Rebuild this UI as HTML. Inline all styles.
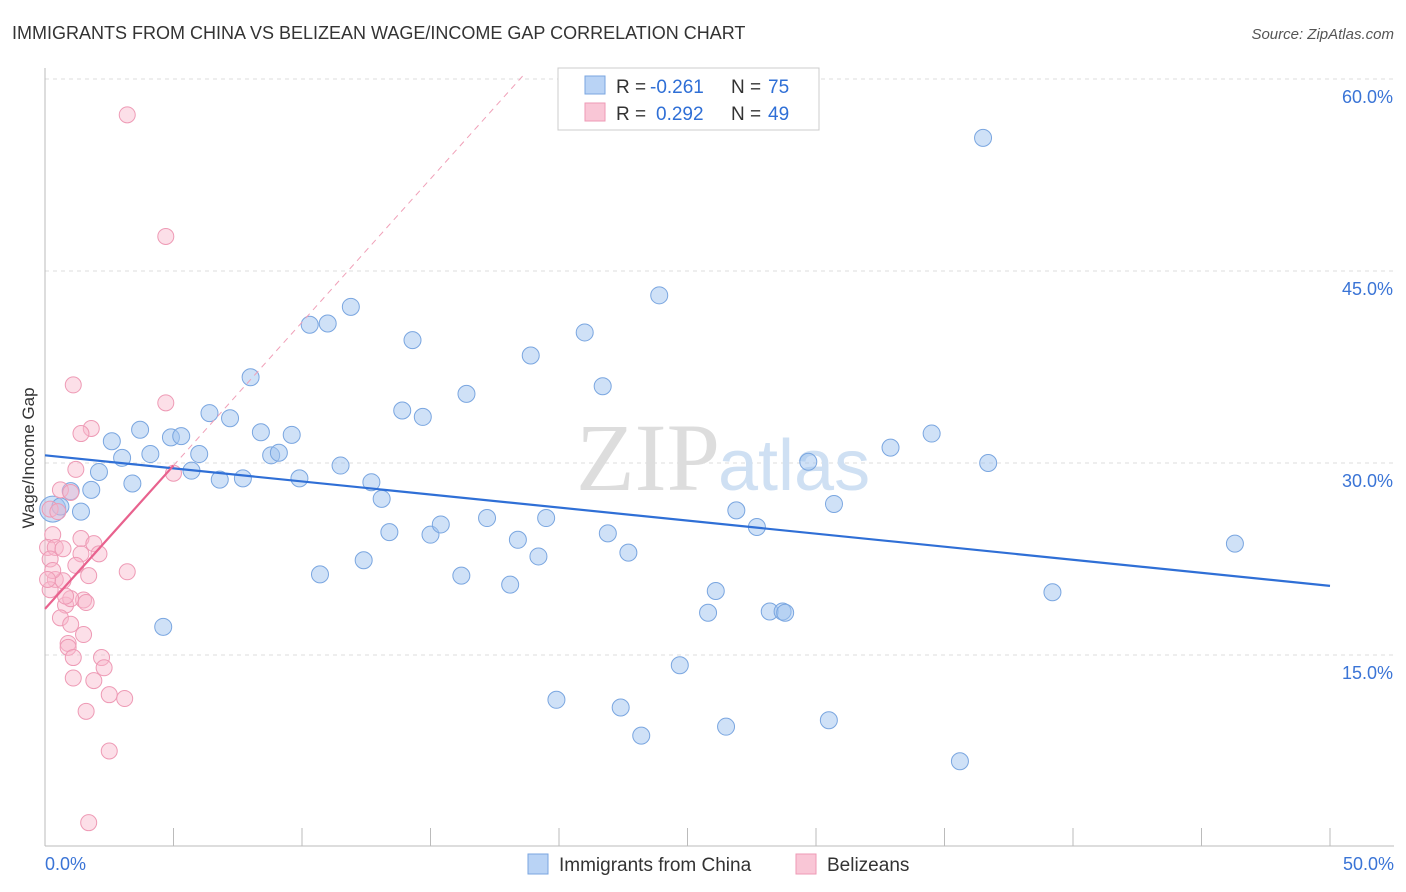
<!DOCTYPE html>
<html><head><meta charset="utf-8"><style>
body{margin:0;background:#fff;font-family:"Liberation Sans",sans-serif;}
svg{display:block}
</style></head><body>
<svg id="chart" width="1406" height="892">
<text x="12" y="39" font-size="18" fill="#333">IMMIGRANTS FROM CHINA VS BELIZEAN WAGE/INCOME GAP CORRELATION CHART</text>
<text x="1394" y="39" font-size="15" fill="#555" font-style="italic" text-anchor="end">Source: ZipAtlas.com</text>
<text x="34" y="458" font-size="17" fill="#333" transform="rotate(-90 34 458)" text-anchor="middle">Wage/Income Gap</text>
<g id="grid"></g>
<text x="720" y="490" font-size="96" fill="#ddd" font-family="Liberation Serif" text-anchor="end">ZIP</text>
<text x="718" y="490" font-size="72" fill="#cfe0f3">atlas</text>
<g id="marks"></g>
<g>
<rect x="558" y="68" width="261" height="62" fill="#fff" stroke="#ccc"/>
<rect x="585" y="76" width="20" height="18" fill="#b9d3f5" stroke="#7aa6e0"/>
<rect x="585" y="103" width="20" height="18" fill="#f9c6d6" stroke="#ee9ab5"/>
<text x="616" y="93" font-size="19" fill="#333">R =</text>
<text x="650" y="93" font-size="19" fill="#2f6fd6">-0.261</text>
<text x="731" y="93" font-size="19" fill="#333">N =</text>
<text x="768" y="93" font-size="19" fill="#2f6fd6">75</text>
<text x="616" y="120" font-size="19" fill="#333">R =</text>
<text x="656" y="120" font-size="19" fill="#2f6fd6">0.292</text>
<text x="731" y="120" font-size="19" fill="#333">N =</text>
<text x="768" y="120" font-size="19" fill="#2f6fd6">49</text>
</g>
<g>
<rect x="528" y="854" width="20" height="20" fill="#b9d3f5" stroke="#7aa6e0"/>
<text x="559" y="871" font-size="19" fill="#333">Immigrants from China</text>
<rect x="796" y="854" width="20" height="20" fill="#f9c6d6" stroke="#ee9ab5"/>
<text x="827" y="871" font-size="19" fill="#333">Belizeans</text>
</g>
</svg>
<script>
const yTicks=[15,30,45,60];
const yTickLabels=["15.0%","30.0%","45.0%","60.0%"];
const xTickLabels=["0.0%","50.0%"];
const chinaX=[0.3,0.6,1.0,1.4,1.8,2.1,2.6,3.0,3.4,3.7,4.1,4.6,4.9,5.3,5.7,6.0,6.4,6.8,7.2,7.7,8.0,8.4,8.8,9.1,9.6,9.9,10.3,11.0,11.5,10.7,11.9,12.4,12.7,13.1,13.4,13.9,14.3,14.7,15.0,15.4,16.2,16.4,17.2,18.1,18.4,18.9,19.2,19.5,19.9,21.0,21.7,21.9,22.4,22.7,23.2,23.9,24.7,25.8,26.1,26.5,26.9,27.7,28.2,28.7,28.8,29.7,30.5,30.7,32.9,34.5,35.6,36.5,36.7,39.2,46.3];
const chinaY=[26.4,26.6,27.8,26.2,27.9,29.3,31.7,30.4,28.4,32.6,30.7,17.2,32.0,32.1,29.4,30.7,33.9,28.7,33.5,28.8,36.7,32.4,30.6,30.8,32.2,28.8,40.8,40.9,29.8,21.3,42.2,22.4,28.5,27.2,24.6,34.1,39.6,33.6,24.4,25.2,21.2,35.4,25.7,20.5,24.0,38.4,22.7,25.7,11.5,40.2,36.0,24.5,10.9,23.0,8.7,43.1,14.2,18.3,20.0,9.4,26.3,25.0,18.4,18.4,18.3,30.1,9.9,26.8,31.2,32.3,6.7,55.4,30.0,19.9,23.7];
const belX=[3.2,4.7,1.1,4.7,1.8,1.4,1.2,5.0,0.6,1.0,0.2,0.3,0.1,0.4,0.7,0.2,1.4,1.9,2.1,1.4,1.2,3.2,1.7,0.4,0.7,0.2,1.5,1.6,0.8,1.0,0.6,1.0,1.5,0.9,0.9,1.1,2.2,2.3,1.1,1.9,2.5,3.1,1.6,2.5,1.7,0.3,0.5,0.1,0.8];
const belY=[57.2,47.7,36.1,34.7,32.7,32.3,29.5,29.2,27.9,27.7,26.4,24.4,23.4,23.4,23.3,22.5,24.1,23.7,22.9,22.9,22.0,21.5,21.2,20.9,20.8,20.1,19.3,19.1,18.9,19.4,17.9,17.4,16.6,15.9,15.6,14.8,14.8,14.0,13.2,13.0,11.9,11.6,10.6,7.5,1.9,21.6,26.2,20.9,19.6];
const chinaFit=[30.6,20.4];
const belFit=[18.6,29.8];
const X=v=>45+v*25.7, Y=v=>847-v*12.8;
const NS="http://www.w3.org/2000/svg";
const gridG=document.getElementById('grid'), marksG=document.getElementById('marks');
function mk(t,a,p){const e=document.createElementNS(NS,t);for(const k in a)e.setAttribute(k,a[k]);(p||marksG).appendChild(e);return e;}
yTicks.forEach((t,i)=>{
 const l=mk('line',{x1:45,x2:1394,y1:Y(t),y2:Y(t),stroke:'#ddd','stroke-dasharray':'4,4'},gridG);
 
 
 const tx=mk('text',{x:1393,y:Y(t)+24,'font-size':18,fill:'#3a74d6','text-anchor':'end'},gridG);
 tx.textContent=yTickLabels[i];
 
 
});
mk('line',{x1:45,x2:1394,y1:79,y2:79,stroke:'#ddd','stroke-dasharray':'4,4'},gridG);
mk('line',{x1:45,x2:45,y1:68,y2:846,stroke:'#bbb'},gridG);
mk('line',{x1:45,x2:1394,y1:846,y2:846,stroke:'#bbb'},gridG);
for(let i=0;i<=10;i++){const tk=mk('line',{x1:X(i*5),x2:X(i*5),y1:828,y2:846,stroke:'#bbb'},gridG);
 
 }
[[0,'start',45],[1,'end',1394]].forEach(([i,a,x])=>{const t=mk('text',{x:x,y:870,'font-size':18,fill:'#3a74d6','text-anchor':a},gridG);t.textContent=xTickLabels[i];
 
 });
chinaX.forEach((v,i)=>{const c=mk('circle',{cx:X(v),cy:Y(chinaY[i]),r:i==0?13:8.5,fill:'rgba(160,195,240,0.5)',stroke:'#7aa6e0','stroke-width':1});
 
 });
belX.forEach((v,i)=>{const c=mk('circle',{cx:X(v),cy:Y(belY[i]),r:8,fill:'rgba(248,185,205,0.45)',stroke:'#ee9ab5','stroke-width':1});
 
 });
const bl=mk('line',{x1:X(0),y1:Y(chinaFit[0]),x2:X(50),y2:Y(chinaFit[1]),stroke:'#2f6fd6','stroke-width':2.2});


const slope=(belFit[1]-belFit[0])/5;
const pd=mk('line',{x1:X(5),y1:Y(belFit[1]),x2:X(5+(60.5-belFit[1])/slope),y2:Y(60.5),stroke:'#f0a0b8','stroke-width':1,'stroke-dasharray':'6,5'});


const pl=mk('line',{x1:X(0),y1:Y(belFit[0]),x2:X(5),y2:Y(belFit[1]),stroke:'#e8628e','stroke-width':2.2});


</script>
</body></html>
